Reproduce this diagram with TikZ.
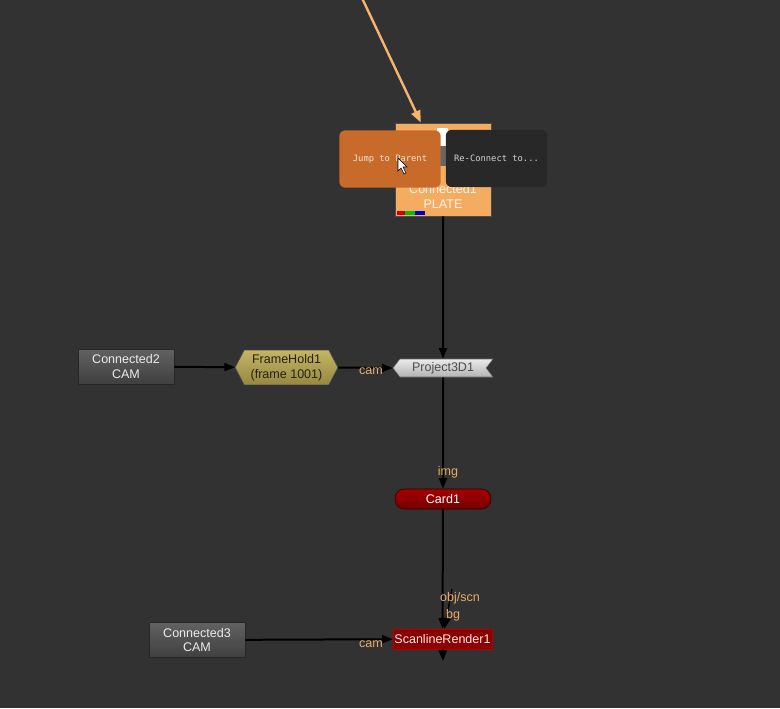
\documentclass[tikz,border=0pt]{standalone}
\usepackage{fontspec}
\setmainfont{Liberation Sans}
\newfontfamily\popfont{DejaVu Sans Mono}
\usetikzlibrary{arrows.meta,shapes.symbols}
\definecolor{bgcol}{RGB}{50,50,50}
\definecolor{platecol}{RGB}{244,172,96}
\definecolor{jumpcol}{RGB}{200,106,42}
\definecolor{popcol}{RGB}{40,40,40}
\definecolor{pintext}{RGB}{232,172,104}
\definecolor{holdtop}{RGB}{196,180,100}
\definecolor{holdbot}{RGB}{150,136,66}
\definecolor{cardcol}{RGB}{140,0,0}
\begin{document}
\begin{tikzpicture}
    [
    x=0.75pt,y=-0.75pt,
    font=\fontsize{9.4}{11}\selectfont,
    readbox/.style={rectangle,draw=black!85,top color=black!62,bottom color=black!75,text=white!92!black,minimum width=72pt,minimum height=26pt,inner sep=0pt,align=center},
    platebox/.style={rectangle,draw=black!70,fill=platecol,minimum width=72pt,minimum height=70pt,inner sep=0pt},
    popup/.style={rectangle,rounded corners=4.5pt,minimum width=76pt,minimum height=43pt,inner sep=0pt,font=\popfont\fontsize{6.6}{8}\selectfont},
    holdbox/.style={signal,signal to=west and east,signal pointer angle=125,draw=black!70,top color=holdtop,bottom color=holdbot,text=black!75!holdbot,minimum width=77pt,minimum height=26pt,inner sep=0pt,align=center},
    projbox/.style={signal,signal to=west,signal from=east,signal pointer angle=105,draw=black!60,top color=white!92!black,bottom color=black!30,text=black!70,minimum width=75pt,minimum height=13.5pt,inner sep=0pt},
    cardbox/.style={rectangle,rounded corners=7pt,draw=black!70!cardcol,top color=cardcol!80!red,bottom color=cardcol!85!black,text=white,minimum width=72pt,minimum height=15pt,inner sep=0pt},
    renderbox/.style={rectangle,draw=red!70!black,fill=cardcol,text=white!92!red,minimum width=74pt,minimum height=15pt,inner sep=0pt},
    pin/.style={text=pintext,inner sep=0pt},
    wire/.style={line width=1.5pt,-{Triangle[length=8pt,width=6pt]}},
    ]
    \fill [bgcol] (0,0) rectangle (780,708);
    \useasboundingbox (0,0) rectangle (780,708);
    % Connected1 and its popups
    \coordinate (up) at (362,-2);
    \node (c1) at (443,169.5) [platebox] {};
    \fill [white] (437,128) rectangle (448,146);
    \fill [black!60] (437,146) rectangle (448,166);
    \fill [red!80!black] (397,211) rectangle (405,215);
    \fill [green!75!black] (405,211) rectangle (415,215);
    \fill [blue!80!black] (415,211) rectangle (425,215);
    \node (c1text) at (443,196.5) [align=center,text=white!90!platecol] {Connected1\\PLATE};
    \node (jump) at (390,159) [popup,fill=jumpcol,text=white!80!jumpcol] {Jump to Parent};
    \node (reconnect) at (496.5,158.5) [popup,fill=popcol,text=white!82!black] {Re-Connect to...};
    \filldraw [white,draw=black,line width=0.4pt] (398,158) -- (398,171) -- (401,168) -- (404,174) -- (406,173) -- (403,167) -- (407,167) -- cycle;
    % other nodes
    \node (con2) at (126,366.5) [readbox] {Connected2\\CAM};
    \node (fh) at (286.5,367.5) [holdbox] {FrameHold1\\(frame 1001)};
    \node (p3d) at (443,368) [projbox] {Project3D1};
    \node (card) at (443,499) [cardbox] {Card1};
    \node (sr) at (442.5,639) [renderbox] {ScanlineRender1};
    \node (con3) at (197,640) [readbox] {Connected3\\CAM};
    \coordinate (bgstub) at (452,589);
    \coordinate (out) at (443,661);
    % wires
    \draw [wire,draw=platecol!90!white,line width=1.8pt,-{Triangle[length=9pt,width=7pt]}] (up) to (c1);
    \draw [wire] (c1) to (p3d);
    \draw [wire] (con2) to (fh);
    \draw [wire] (fh.east) to (p3d.west);
    \draw [wire] (p3d) to (card);
    \draw [wire] (card) to (sr);
    \draw [wire,line width=1pt] (bgstub) to (sr);
    \draw [wire] (con3) to (sr);
    \draw [wire] (sr) to (out);
    % input labels
    \node (camA) at (371,371) [pin] {cam};
    \node (img) at (448,472) [pin] {img};
    \node (objscn) at (460,598) [pin] {obj/scn};
    \node (bg) at (453,615) [pin] {bg};
    \node (camB) at (371,644) [pin] {cam};
  \end{tikzpicture}
\end{document}
